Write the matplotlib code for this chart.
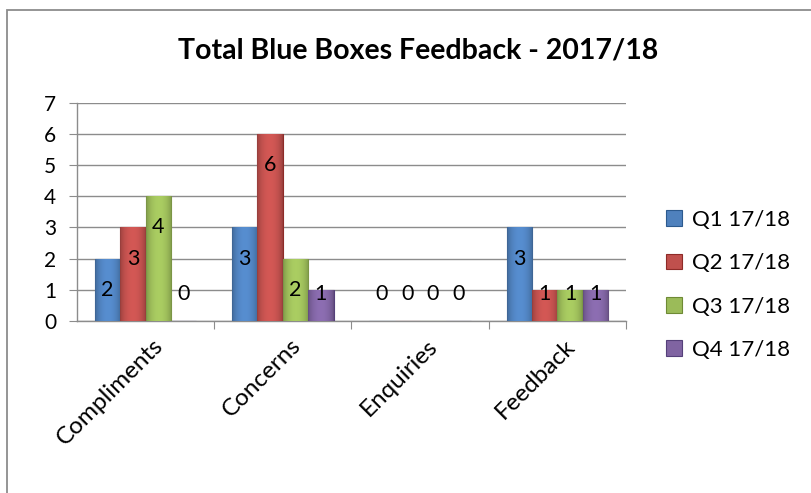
import matplotlib
matplotlib.use("Agg")
import matplotlib.pyplot as plt
import numpy as np
from matplotlib.patches import Rectangle
from matplotlib.colors import to_rgb

categories = ["Compliments", "Concerns", "Enquiries", "Feedback"]
series_names = ["Q1 17/18", "Q2 17/18", "Q3 17/18", "Q4 17/18"]
q1 = [2, 3, 0, 3]
q2 = [3, 6, 0, 1]
q3 = [4, 2, 0, 1]
q4 = [0, 1, 0, 1]
values = [q1, q2, q3, q4]
colors = ["#4F81BD", "#C0504D", "#9BBB59", "#8064A2"]
edges = ["#2C5A8E", "#8E2B28", "#6E8A35", "#55407A"]
title = "Total Blue Boxes Feedback - 2017/18"
yticks = [0, 1, 2, 3, 4, 5, 6, 7]

plt.rcParams['font.family'] = ['Lato', 'DejaVu Sans']

W, H = 812, 493
fig = plt.figure(figsize=(W / 100, H / 100), dpi=100)
fig.patch.set_facecolor("white")

# chart frame
fig.add_artist(Rectangle((7 / W, -0.1), 1.2, (H - 10) / H + 0.1, transform=fig.transFigure,
                         fill=False, edgecolor="#8c8c8c", linewidth=1.3))

ax = fig.add_axes([77 / W, (H - 321) / H, 549 / W, 218.3 / H])
ax.set_xlim(0, 4)
ax.set_ylim(0, 7)


def bevel_gradient(color):
    base = np.array(to_rgb(color))
    t = np.linspace(0, 1, 32)
    prof = 0.78 + 0.32 * np.sin(np.pi * t) ** 0.6
    img = np.clip(base[None, :] * prof[:, None], 0, 1)
    return img[None, :, :]


bw = 0.185
x = np.arange(len(categories)) + 0.5
for i, (vals, c, ec) in enumerate(zip(values, colors, edges)):
    xs = x + (i - 1.5) * bw
    bars = ax.bar(xs, vals, width=bw, color=c, edgecolor=ec, linewidth=0.8, zorder=3,
                  label=series_names[i])
    grad = bevel_gradient(c)
    for b in bars:
        if b.get_height() > 0:
            im = ax.imshow(grad, extent=[b.get_x(), b.get_x() + b.get_width(), 0, b.get_height()],
                           aspect="auto", zorder=3.1, interpolation="bilinear")
            im.set_clip_path(b)
    for xv, v in zip(xs, vals):
        ax.text(xv, max(v - 1, 0.86), str(v), ha="center", va="center",
                fontsize=15.5, color="black", zorder=4)

ax.set_xlim(0, 4)
ax.set_ylim(0, 7)
ax.set_yticks(yticks)
ax.set_yticklabels([str(t) for t in yticks], fontsize=15)
ax.grid(axis="y", color="#8c8c8c", linewidth=1.0, zorder=0)
ax.set_axisbelow(True)
ax.tick_params(axis="y", length=6, color="#8c8c8c", pad=9)

ax.set_xticks([1, 2, 3, 4])
ax.set_xticklabels([])
ax.tick_params(axis="x", length=6, color="#8c8c8c", direction="out")
for xv, lab in zip(x, categories):
    ax.text(xv + 0.05, -0.45, lab, rotation=45, ha="right", va="top",
            rotation_mode="anchor", fontsize=17.5, transform=ax.transData)

for s in ["top", "right"]:
    ax.spines[s].set_visible(False)
for s in ["left", "bottom"]:
    ax.spines[s].set_color("#8c8c8c")
    ax.spines[s].set_linewidth(1.0)

fig.text(418 / W, 1 - 50 / H, title, ha="center", va="center", fontsize=20.5,
         fontweight="bold")

handles, labels = ax.get_legend_handles_labels()
leg = fig.legend(handles, labels, loc="center left", bbox_to_anchor=(646 / W, 1 - 285 / H),
                 frameon=False, fontsize=16, handlelength=0.7, handleheight=0.7,
                 labelspacing=1.05, handletextpad=0.45)

fig.savefig("out.png", dpi=100)
